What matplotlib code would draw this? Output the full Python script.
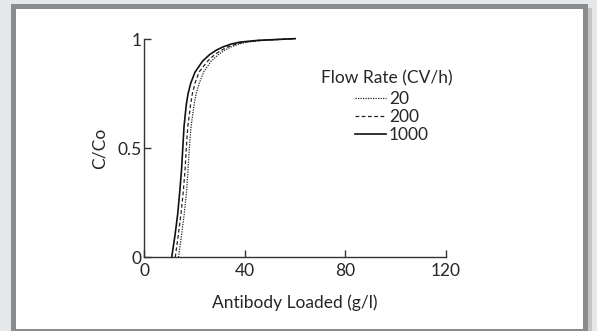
import numpy as np
import matplotlib
matplotlib.use("Agg")
import matplotlib.pyplot as plt
from matplotlib.patches import Rectangle

# breakthrough curves
cc_levels = [0, 0.1, 0.2, 0.3, 0.4, 0.5, 0.6, 0.7, 0.75, 0.8, 0.85, 0.9,
             0.93, 0.95, 0.965, 0.978, 0.987, 0.995, 1.003]
load_20 = [13.6, 14.8, 15.9, 16.8, 17.4, 17.9, 18.6, 19.8, 20.6, 21.9, 23.6,
           26.6, 29.5, 32.0, 34.5, 37.5, 41.0, 47.0, 60.0]
load_200 = [12.3, 13.5, 14.6, 15.5, 16.2, 16.7, 17.3, 18.4, 19.1, 20.2, 21.8,
            25.2, 28.0, 30.7, 33.2, 36.5, 39.5, 46.0, 60.0]
load_1000 = [10.9, 12.2, 13.3, 14.1, 14.8, 15.3, 15.8, 16.7, 17.4, 18.5, 20.2,
             23.2, 26.0, 28.6, 31.3, 34.5, 38.0, 45.0, 60.0]

flow_labels = ["20", "200", "1000"]
x_ticks = [0, 40, 80, 120]
y_ticks = [0, 0.5, 1]
y_ticklabels = ["0", "0.5", "1"]

plt.rcParams['font.family'] = ['Lato', 'DejaVu Sans']
txt = '#262626'
fs = 12.5

fig = plt.figure(figsize=(5.97, 3.31), dpi=100)
fig.patch.set_facecolor('#e6e7e8')

# panel frame: shadow, dark border, white inside
W, H = 597.0, 331.0
fig.patches.append(Rectangle((15 / W, 0), 577 / W, 1 - 8 / H, transform=fig.transFigure,
                             facecolor='#c4c5c7', edgecolor='none', zorder=0))
fig.patches.append(Rectangle((11 / W, 0), 577 / W, 1 - 4 / H, transform=fig.transFigure,
                             facecolor='#8b8c8e', edgecolor='none', zorder=0))
fig.patches.append(Rectangle((16 / W, 2 / H), 566.5 / W, 1 - 11 / H, transform=fig.transFigure,
                             facecolor='white', edgecolor='none', zorder=0))

ax = fig.add_axes([144.3 / W, 1 - 257.3 / H, 301.7 / W, 218 / H])
ax.set_zorder(2)
ax.set_facecolor('none')

ax.plot(load_20, cc_levels, color='#222222', lw=0.9, ls=(0, (1, 1)), clip_on=False, label=flow_labels[0])
ax.plot(load_200, cc_levels, color='#222222', lw=0.9, ls=(0, (3, 2)), clip_on=False, label=flow_labels[1])
ax.plot(load_1000, cc_levels, color='#111111', lw=1.2, ls='-', clip_on=False, label=flow_labels[2])

ax.set_xlim(0, 120)
ax.set_ylim(0, 1)
ax.set_xticks(x_ticks)
ax.set_yticks(y_ticks)
ax.set_yticklabels(y_ticklabels)

for s in ['top', 'right']:
    ax.spines[s].set_visible(False)
for s in ['left', 'bottom']:
    ax.spines[s].set_color('#333333')
    ax.spines[s].set_linewidth(1.0)

ax.tick_params(direction='in', length=5, width=1.0, color='#333333',
               labelsize=fs, labelcolor=txt)
ax.tick_params(axis='x', pad=4)
ax.tick_params(axis='y', pad=2)

ax.set_xlabel("Antibody Loaded (g/l)", fontsize=fs, color=txt, labelpad=11)
ax.set_ylabel("C/Co", fontsize=fs, color=txt, labelpad=7)

# legend: title as a separate text, entries below it
ax.text(0.803, 0.822, "Flow Rate (CV/h)", transform=ax.transAxes, ha='center', va='center',
        fontsize=fs, color=txt)
leg = ax.legend(frameon=False, fontsize=fs, handlelength=1.8, handletextpad=0.15,
                labelspacing=0.1, borderpad=0, borderaxespad=0,
                loc='upper left', bbox_to_anchor=(0.698, 0.762))
for t in leg.get_texts():
    t.set_color(txt)

fig.savefig("out.png", dpi=100, facecolor=fig.get_facecolor())
